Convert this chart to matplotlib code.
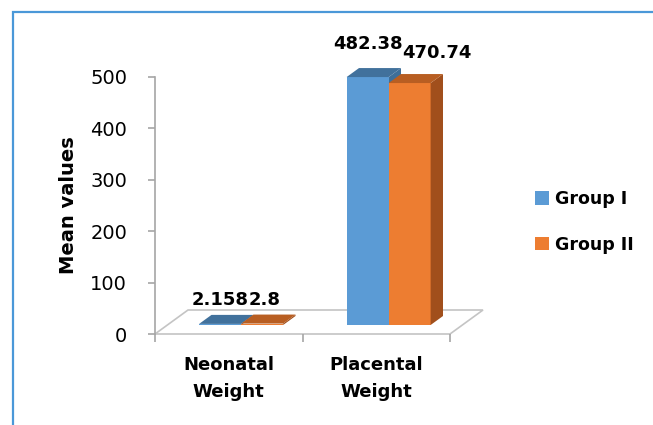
import matplotlib
matplotlib.use("Agg")
import matplotlib.pyplot as plt
from matplotlib.patches import Polygon, Rectangle

categories = ["Neonatal\nWeight", "Placental\nWeight"]
series_names = ["Group I", "Group II"]
group1 = [2.158, 482.38]
group2 = [2.8, 470.74]
value_labels = [["2.158", "482.38"], ["2.8", "470.74"]]
y_ticks = [0, 100, 200, 300, 400, 500]

front_colors = ["#5b9bd5", "#ed7d31"]
top_colors = ["#41719c", "#b85e22"]
side_colors = ["#3e6f9a", "#a14f1c"]

W, H, DPI = 653, 425, 100
plt.rcParams["font.family"] = ["DejaVu Sans"]
fig = plt.figure(figsize=(W / DPI, H / DPI), dpi=DPI)

# axes placed in pixel terms
left_px, right_px, top_px, bot_px = 155, 450, 77, 334
ax = fig.add_axes([left_px / W, 1 - bot_px / H,
                   (right_px - left_px) / W, (bot_px - top_px) / H])
ax.set_xlim(-0.5, 1.5)
ax.set_ylim(0, 500)
ax.patch.set_alpha(0)

xu = (right_px - left_px) / 2.0      # px per x unit
yu = (bot_px - top_px) / 500.0       # px per y unit

# depth vectors in data units
floor_dx, floor_dy = 33 / xu, 24 / yu
bar_off_dx, bar_off_dy = floor_dx * 0.375, floor_dy * 0.375
bar_dx, bar_dy = floor_dx * 0.375, floor_dy * 0.375
bar_w = 42 / xu

# floor
floor = Polygon([(-0.5, 0), (1.5, 0), (1.5 + floor_dx, floor_dy), (-0.5 + floor_dx, floor_dy)],
                closed=True, facecolor="white", edgecolor="#c4c4c4", lw=1.2,
                clip_on=False, zorder=1)
ax.add_patch(floor)

xs = [0, 1]
for si, vals in enumerate([group1, group2]):
    x0s = [c - bar_w + si * bar_w + bar_off_dx for c in xs]
    bars = ax.bar(x0s, vals, width=bar_w, bottom=bar_off_dy, align="edge",
                  color=front_colors[si], edgecolor="none", zorder=3 + si * 3,
                  clip_on=False, label=series_names[si])
    for rect in bars:
        x0 = rect.get_x()
        x1 = x0 + rect.get_width()
        y0 = rect.get_y()
        y1 = y0 + rect.get_height()
        side = Polygon([(x1, y0), (x1 + bar_dx, y0 + bar_dy), (x1 + bar_dx, y1 + bar_dy), (x1, y1)],
                       closed=True, facecolor=side_colors[si], edgecolor="none",
                       zorder=2 if si == 0 else 3 + si * 3 + 1, clip_on=False)
        top = Polygon([(x0, y1), (x1, y1), (x1 + bar_dx, y1 + bar_dy), (x0 + bar_dx, y1 + bar_dy)],
                      closed=True, facecolor=top_colors[si], edgecolor="none",
                      zorder=3 + si * 3 + 1, clip_on=False)
        ax.add_patch(side)
        ax.add_patch(top)

# value labels: Group II label sits just right of the Group I label
lab_font = dict(fontsize=13, fontweight="bold", color="black")
label_pad = [4, 11]
for ci, c in enumerate(xs):
    v1, v2 = group1[ci], group2[ci]
    xb = c - bar_w + bar_off_dx
    top1 = v1 + bar_off_dy + bar_dy
    top2 = v2 + bar_off_dy + bar_dy
    a1 = ax.annotate(value_labels[0][ci], (xb + bar_w / 2, top1),
                     xytext=(0, label_pad[ci]), textcoords="offset points",
                     ha="center", va="bottom", annotation_clip=False, **lab_font)
    ax.annotate(value_labels[1][ci], (1.0, top2), xycoords=(a1, "data"),
                xytext=(0, label_pad[ci] - 2 * ci), textcoords="offset points",
                ha="left", va="bottom", annotation_clip=False, **lab_font)

# axes styling
for s in ["top", "right", "bottom"]:
    ax.spines[s].set_visible(False)
ax.spines["left"].set_color("#a6a6a6")
ax.spines["left"].set_linewidth(1.2)
ax.set_yticks(y_ticks)
ax.tick_params(axis="y", direction="out", length=5, color="#a6a6a6", width=1.2,
               pad=15, labelsize=14)
ax.set_xticks([0, 1])
ax.set_xticklabels(categories, fontsize=13, fontweight="bold", linespacing=1.6)
ax.set_xticks([-0.5, 0.5, 1.5], minor=True)
ax.tick_params(axis="x", which="major", length=0, pad=16)
ax.tick_params(axis="x", which="minor", direction="out", length=6, color="#a6a6a6", width=1.2)
ax.set_ylabel("Mean values", fontsize=14, fontweight="bold")
ax.yaxis.set_label_coords(-0.26, 0.5)

# legend
handles = [Rectangle((0, 0), 1, 1, facecolor=front_colors[i], edgecolor="none") for i in range(2)]
fig.legend(handles, series_names, loc="center left", bbox_to_anchor=(519 / W, 1 - 222 / H),
           frameon=False, prop=dict(size=12.5, weight="bold"), handlelength=0.8,
           handleheight=0.8, handletextpad=0.4, labelspacing=1.6)

# outer frame
frame = Rectangle((13 / W, -0.05), 1.1, 1 - 12 / H + 0.05, transform=fig.transFigure,
                  facecolor="none", edgecolor="#4a98d8", lw=1.6, clip_on=False)
fig.patches.append(frame)

fig.savefig("out.png", dpi=DPI)
